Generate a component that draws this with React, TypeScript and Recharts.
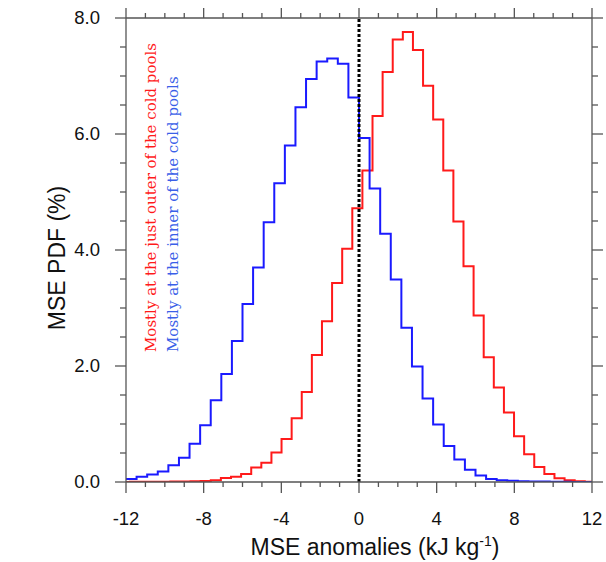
import { LineChart, Line, XAxis, YAxis, ReferenceLine } from "recharts";

const X_MIN = -12;
const X_MAX = 12;
const xTicks = [-12, -11, -10, -9, -8, -7, -6, -5, -4, -3, -2, -1, 0, 1, 2, 3, 4, 5, 6, 7, 8, 9, 10, 11, 12];
const xMajor = [-12, -8, -4, 0, 4, 8, 12];
const yTicks = [0, 0.5, 1, 1.5, 2, 2.5, 3, 3.5, 4, 4.5, 5, 5.5, 6, 6.5, 7, 7.5, 8];
const yMajor = [0, 2, 4, 6, 8];

// inner of the cold pools (blue), bins start at -12
const innerStart = -12;
const innerBinWidth = 12 / 22;
const innerPdf = [
  0.05, 0.09, 0.13, 0.18, 0.29, 0.42, 0.66, 0.98, 1.41, 1.86, 2.43, 3.07, 3.7, 4.48, 5.15,
  5.8, 6.46, 6.95, 7.25, 7.3, 7.21, 6.63, 5.93, 5.06, 4.28, 3.49, 2.66, 1.99, 1.44, 0.99,
  0.62, 0.39, 0.21, 0.11, 0.05, 0.03, 0.02, 0.015, 0.01, 0.007, 0.005, 0.003, 0.002, 0.001
];

// just outer of the cold pools (red)
const outerStart = -12.319;
const outerBinWidth = 0.5206;
const outerPdf = [
  0.002, 0.003, 0.004, 0.005, 0.006, 0.008, 0.01, 0.012, 0.018, 0.03, 0.07, 0.09, 0.14,
  0.25, 0.33, 0.51, 0.74, 1.1, 1.55, 2.19, 2.77, 3.43, 4.02, 4.72, 5.37, 6.31, 7.07, 7.63,
  7.76, 7.45, 6.83, 6.25, 5.37, 4.49, 3.72, 2.87, 2.15, 1.63, 1.2, 0.79, 0.48, 0.26, 0.14,
  0.064, 0.03, 0.012, 0.005
];

function toSteps(start: number, width: number, values: number[]) {
  const pts = values.map((v, i) => ({ x: Math.max(X_MIN, start + i * width), pdf: v }));
  pts.push({
    x: Math.min(X_MAX, start + values.length * width),
    pdf: values[values.length - 1]
  });
  return pts;
}

const innerData = toSteps(innerStart, innerBinWidth, innerPdf);
const outerData = toSteps(outerStart, outerBinWidth, outerPdf);

const AXIS = "#555";
const SANS = "'Liberation Sans', Arial, sans-serif";
const SERIF = "'DejaVu Serif', serif";

const BottomTick = (props: any) => {
  const { x, y, payload } = props;
  const major = xMajor.includes(payload.value);
  return (
    <g>
      <line x1={x} x2={x} y1={y} y2={y + (major ? 11 : 5)} stroke={AXIS} strokeWidth={1.3} />
      {major && (
        <text x={x} y={y + 43} textAnchor="middle" fontSize={18.5} fontFamily={SANS} fill="#111">
          {payload.value}
        </text>
      )}
    </g>
  );
};

const TopTick = (props: any) => {
  const { x, y, payload } = props;
  const major = xMajor.includes(payload.value);
  return <line x1={x} x2={x} y1={y} y2={y - (major ? 11 : 5)} stroke={AXIS} strokeWidth={1.3} />;
};

const LeftTick = (props: any) => {
  const { x, y, payload } = props;
  const major = yMajor.includes(payload.value);
  return (
    <g>
      <line x1={x} x2={x - (major ? 11 : 6)} y1={y} y2={y} stroke={AXIS} strokeWidth={1.3} />
      {major && (
        <text x={x - 26} y={y} dy="0.35em" textAnchor="end" fontSize={18.5} fontFamily={SANS} fill="#111">
          {payload.value.toFixed(1)}
        </text>
      )}
    </g>
  );
};

const RightTick = (props: any) => {
  const { x, y, payload } = props;
  const major = yMajor.includes(payload.value);
  return <line x1={x} x2={x + (major ? 11 : 6)} y1={y} y2={y} stroke={AXIS} strokeWidth={1.3} />;
};

export default function App() {
  return (
    <div style={{ padding: "8px 0 0 8px", width: 598, height: 554 }}>
      <style>{"html,body{margin:0;padding:0;overflow:hidden}"}</style>
      <div style={{ position: "relative", width: 598, height: 554 }}>
        <LineChart width={598} height={554} data={innerData} margin={{ top: 0, right: 4, bottom: 30, left: 58 }}>
          <XAxis
            dataKey="x"
            type="number"
            domain={[X_MIN, X_MAX]}
            ticks={xTicks}
            interval={0}
            height={50}
            tickLine={false}
            tickSize={0}
            tickMargin={0}
            tick={<BottomTick />}
            axisLine={{ stroke: AXIS, strokeWidth: 1.3 }}
            allowDataOverflow
          />
          <XAxis
            xAxisId="top"
            orientation="top"
            dataKey="x"
            type="number"
            domain={[X_MIN, X_MAX]}
            ticks={xTicks}
            interval={0}
            height={10}
            tickLine={false}
            tickSize={0}
            tickMargin={0}
            tick={<TopTick />}
            axisLine={{ stroke: AXIS, strokeWidth: 1.3 }}
            allowDataOverflow
          />
          <YAxis
            type="number"
            domain={[0, 8]}
            ticks={yTicks}
            interval={0}
            width={60}
            tickLine={false}
            tickSize={0}
            tickMargin={0}
            tick={<LeftTick />}
            axisLine={{ stroke: AXIS, strokeWidth: 1.3 }}
            allowDataOverflow
          />
          <YAxis
            yAxisId="right"
            orientation="right"
            type="number"
            domain={[0, 8]}
            ticks={yTicks}
            interval={0}
            width={10}
            tickLine={false}
            tickSize={0}
            tickMargin={0}
            tick={<RightTick />}
            axisLine={{ stroke: AXIS, strokeWidth: 1.3 }}
            allowDataOverflow
          />
          <Line
            data={outerData}
            dataKey="pdf"
            type="stepAfter"
            stroke="#ff1a1a"
            strokeWidth={2}
            dot={false}
            activeDot={false}
            isAnimationActive={false}
          />
          <Line
            data={innerData}
            dataKey="pdf"
            type="stepAfter"
            stroke="#1a1aff"
            strokeWidth={2}
            dot={false}
            activeDot={false}
            isAnimationActive={false}
          />
          <ReferenceLine x={0} stroke="#000" strokeWidth={3} strokeDasharray="3 2" />
        </LineChart>
        <svg width={598} height={554} style={{ position: "absolute", left: 0, top: 0, pointerEvents: "none" }}>
          <text
            transform="translate(57,250) rotate(-90)"
            textAnchor="middle"
            fontSize={23}
            fontFamily={SANS}
            fill="#111"
          >
            MSE PDF (%)
          </text>
          <text x={367} y={547} textAnchor="middle" fontSize={23} fontFamily={SANS} fill="#111">
            MSE anomalies (kJ kg
            <tspan fontSize={14} dy={-9}>-1</tspan>
            <tspan dy={9}>)</tspan>
          </text>
          <text transform="translate(148,344) rotate(-90)" fontSize={15} fontFamily={SERIF} fill="#ff1a1a">
            Mostly at the just outer of the cold pools
          </text>
          <text transform="translate(170,344) rotate(-90)" fontSize={15} fontFamily={SERIF} fill="#3a5fe8">
            Mostly at the inner of the cold pools
          </text>
        </svg>
      </div>
    </div>
  );
}
